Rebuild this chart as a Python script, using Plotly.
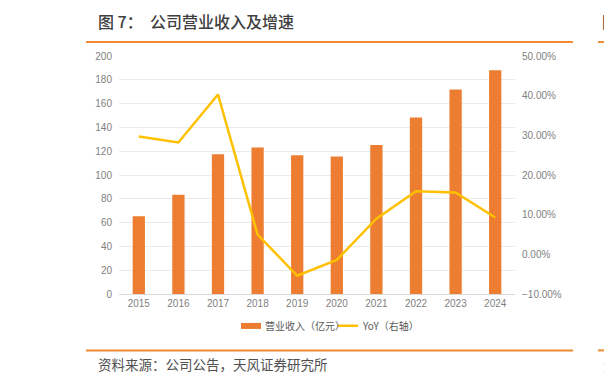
import plotly.graph_objects as go

years = ["2015", "2016", "2017", "2018", "2019", "2020", "2021", "2022", "2023", "2024"]
revenue = [65.4, 83.5, 117.5, 123.2, 116.7, 115.6, 125.3, 148.3, 171.8, 188.0]
yoy = [29.7, 28.2, 40.3, 5.0, -5.4, -1.4, 9.0, 15.9, 15.6, 9.3]

left_ticks = list(range(0, 201, 20))
right_ticks = [-10, 0, 10, 20, 30, 40, 50]
right_labels = ["−10.00%", "0.00%", "10.00%", "20.00%", "30.00%", "40.00%", "50.00%"]

BAR = "#ED7D31"
LINE = "#FFC000"
TICK = "#7F7F7F"
CJK = "Noto Sans CJK SC"
LAT = "Liberation Sans, Arial, sans-serif"

# the page body has an 8px margin; work in page pixels and shift
OFF = 8
W, H = 612 - OFF, 384 - OFF
L, R, T, B = 119 - OFF, 515 - OFF, 55.5 - OFF, 294 - OFF

def px(x):
    return (x - OFF - L) / (R - L)

def py(y):
    return (B - (y - OFF)) / (B - T)

fig = go.Figure()
fig.add_trace(go.Bar(x=years, y=revenue, marker=dict(color=BAR, line=dict(width=0)),
                     name="营业收入（亿元）", showlegend=False, yaxis="y"))
fig.add_trace(go.Scatter(x=years, y=yoy, mode="lines", line=dict(color=LINE, width=2.5),
                         name="YoY（右轴）", showlegend=False, yaxis="y2"))

RULE = "#F08A33"
shapes = [
    dict(type="line", xref="paper", yref="paper", x0=px(86), x1=px(573), y0=py(41.5), y1=py(41.5),
         line=dict(color=RULE, width=2)),
    dict(type="line", xref="paper", yref="paper", x0=px(598), x1=px(616), y0=py(41.5), y1=py(41.5),
         line=dict(color=RULE, width=2)),
    dict(type="line", xref="paper", yref="paper", x0=px(86), x1=px(573), y0=py(350.5), y1=py(350.5),
         line=dict(color=RULE, width=2)),
    dict(type="line", xref="paper", yref="paper", x0=px(598), x1=px(616), y0=py(350.5), y1=py(350.5),
         line=dict(color=RULE, width=2)),
    dict(type="rect", xref="paper", yref="paper", x0=px(241), x1=px(261), y0=py(323), y1=py(329),
         fillcolor=BAR, line=dict(width=0)),
    dict(type="line", xref="paper", yref="paper", x0=px(338), x1=px(358), y0=py(325.8), y1=py(325.8),
         line=dict(color=LINE, width=2.5)),
]

annotations = [
    dict(text="图 7：  公司营业收入及增速", xref="paper", yref="paper", x=px(96), y=py(20.5),
         xanchor="left", yanchor="middle", showarrow=False,
         font=dict(family=CJK, size=16, color="#404040", weight=500)),
    dict(text="图", xref="paper", yref="paper", x=px(600), y=py(20.5),
         xanchor="left", yanchor="middle", showarrow=False,
         font=dict(family=CJK, size=16, color="#404040", weight=500)),
    dict(text="资料来源：公司公告，天风证券研究所", xref="paper", yref="paper", x=px(96), y=py(364),
         xanchor="left", yanchor="middle", showarrow=False,
         font=dict(family=CJK, size=13.5, color="#505050")),
    dict(text="资", xref="paper", yref="paper", x=px(601), y=py(364),
         xanchor="left", yanchor="middle", showarrow=False,
         font=dict(family=CJK, size=13.5, color="#505050")),
    dict(text="营业收入（亿元）", xref="paper", yref="paper", x=px(263), y=py(326),
         xanchor="left", yanchor="middle", showarrow=False,
         font=dict(family=CJK, size=10, color="#595959")),
    dict(text="YoY（右轴）", xref="paper", yref="paper", x=px(360), y=py(326),
         xanchor="left", yanchor="middle", showarrow=False,
         font=dict(family=CJK, size=10, color="#595959")),
]

fig.update_layout(
    width=W, height=H,
    margin=dict(l=L, r=W - R, t=T, b=H - B, pad=0),
    paper_bgcolor="white", plot_bgcolor="white",
    bargap=0.69,
    showlegend=False,
    xaxis=dict(type="category", showgrid=False, showline=True, linecolor="#D9D9D9", linewidth=1,
               ticks="", tickfont=dict(family=LAT, size=10, color=TICK), zeroline=False),
    yaxis=dict(range=[0, 200], tickvals=left_ticks, showgrid=True, gridcolor="#EBEBEB", gridwidth=1,
               zeroline=False, showline=False, ticks="", ticklabelstandoff=6,
               tickfont=dict(family=LAT, size=10, color=TICK)),
    yaxis2=dict(range=[-10, 50], overlaying="y", side="right", tickvals=right_ticks, ticktext=right_labels,
                showgrid=False, zeroline=False, showline=False, ticks="", ticklabelstandoff=6,
                tickfont=dict(family=LAT, size=10, color=TICK)),
    shapes=shapes,
    annotations=annotations,
)

fig.write_html("out.html")
